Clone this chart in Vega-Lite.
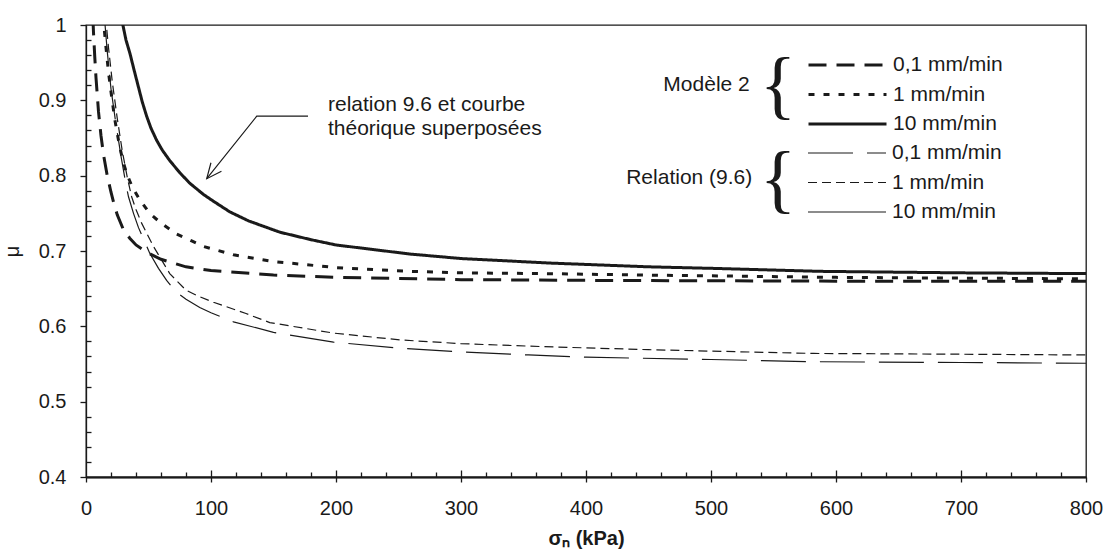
{
  "$schema": "https://vega.github.io/schema/vega-lite/v6.json",
  "width": 1000,
  "height": 452,
  "autosize": {"type": "none"},
  "padding": {"left": 86, "top": 25, "right": 21, "bottom": 77},
  "background": "white",
  "config": {
    "font": "Liberation Sans",
    "view": {"stroke": "#1a1a1a", "strokeWidth": 1.3},
    "axis": {
      "grid": false, "domainColor": "#1a1a1a", "domainWidth": 1.3, "tickColor": "#1a1a1a", "tickWidth": 1.3,
      "labelColor": "#1a1a1a", "titleColor": "#1a1a1a", "labelFont": "Liberation Sans", "titleFont": "Liberation Sans",
      "labelFontSize": 20, "titleFontSize": 20
    },
    "legend": {
      "labelFont": "Liberation Sans", "labelFontSize": 21, "labelColor": "#1a1a1a", "padding": 0,
      "rowPadding": 7.5, "clipHeight": 22, "symbolType": "stroke", "symbolSize": 6084, "labelOffset": 5,
      "symbolStrokeColor": "#1a1a1a"
    }
  },
  "datasets": {
    "curves": [
      {"groupe": "Modèle 2", "vitesse": "0,1 mm/min", "sigma": 5.5, "mu": 1.01},
      {"groupe": "Modèle 2", "vitesse": "0,1 mm/min", "sigma": 6, "mu": 0.99},
      {"groupe": "Modèle 2", "vitesse": "0,1 mm/min", "sigma": 7, "mu": 0.958},
      {"groupe": "Modèle 2", "vitesse": "0,1 mm/min", "sigma": 8, "mu": 0.93},
      {"groupe": "Modèle 2", "vitesse": "0,1 mm/min", "sigma": 10, "mu": 0.885},
      {"groupe": "Modèle 2", "vitesse": "0,1 mm/min", "sigma": 12, "mu": 0.853},
      {"groupe": "Modèle 2", "vitesse": "0,1 mm/min", "sigma": 14, "mu": 0.828},
      {"groupe": "Modèle 2", "vitesse": "0,1 mm/min", "sigma": 17, "mu": 0.8},
      {"groupe": "Modèle 2", "vitesse": "0,1 mm/min", "sigma": 20, "mu": 0.778},
      {"groupe": "Modèle 2", "vitesse": "0,1 mm/min", "sigma": 22, "mu": 0.765},
      {"groupe": "Modèle 2", "vitesse": "0,1 mm/min", "sigma": 25, "mu": 0.748},
      {"groupe": "Modèle 2", "vitesse": "0,1 mm/min", "sigma": 30, "mu": 0.728},
      {"groupe": "Modèle 2", "vitesse": "0,1 mm/min", "sigma": 35, "mu": 0.717},
      {"groupe": "Modèle 2", "vitesse": "0,1 mm/min", "sigma": 40, "mu": 0.708},
      {"groupe": "Modèle 2", "vitesse": "0,1 mm/min", "sigma": 50, "mu": 0.697},
      {"groupe": "Modèle 2", "vitesse": "0,1 mm/min", "sigma": 60, "mu": 0.689},
      {"groupe": "Modèle 2", "vitesse": "0,1 mm/min", "sigma": 80, "mu": 0.679},
      {"groupe": "Modèle 2", "vitesse": "0,1 mm/min", "sigma": 100, "mu": 0.674},
      {"groupe": "Modèle 2", "vitesse": "0,1 mm/min", "sigma": 150, "mu": 0.668},
      {"groupe": "Modèle 2", "vitesse": "0,1 mm/min", "sigma": 200, "mu": 0.665},
      {"groupe": "Modèle 2", "vitesse": "0,1 mm/min", "sigma": 300, "mu": 0.662},
      {"groupe": "Modèle 2", "vitesse": "0,1 mm/min", "sigma": 400, "mu": 0.661},
      {"groupe": "Modèle 2", "vitesse": "0,1 mm/min", "sigma": 600, "mu": 0.66},
      {"groupe": "Modèle 2", "vitesse": "0,1 mm/min", "sigma": 800, "mu": 0.66},

      {"groupe": "Modèle 2", "vitesse": "1 mm/min", "sigma": 13.5, "mu": 1.012},
      {"groupe": "Modèle 2", "vitesse": "1 mm/min", "sigma": 14, "mu": 1.005},
      {"groupe": "Modèle 2", "vitesse": "1 mm/min", "sigma": 16, "mu": 0.97},
      {"groupe": "Modèle 2", "vitesse": "1 mm/min", "sigma": 18, "mu": 0.937},
      {"groupe": "Modèle 2", "vitesse": "1 mm/min", "sigma": 20.5, "mu": 0.905},
      {"groupe": "Modèle 2", "vitesse": "1 mm/min", "sigma": 23, "mu": 0.875},
      {"groupe": "Modèle 2", "vitesse": "1 mm/min", "sigma": 26, "mu": 0.847},
      {"groupe": "Modèle 2", "vitesse": "1 mm/min", "sigma": 29, "mu": 0.823},
      {"groupe": "Modèle 2", "vitesse": "1 mm/min", "sigma": 32.5, "mu": 0.803},
      {"groupe": "Modèle 2", "vitesse": "1 mm/min", "sigma": 37, "mu": 0.785},
      {"groupe": "Modèle 2", "vitesse": "1 mm/min", "sigma": 43, "mu": 0.768},
      {"groupe": "Modèle 2", "vitesse": "1 mm/min", "sigma": 51, "mu": 0.75},
      {"groupe": "Modèle 2", "vitesse": "1 mm/min", "sigma": 60, "mu": 0.737},
      {"groupe": "Modèle 2", "vitesse": "1 mm/min", "sigma": 72, "mu": 0.723},
      {"groupe": "Modèle 2", "vitesse": "1 mm/min", "sigma": 85, "mu": 0.713},
      {"groupe": "Modèle 2", "vitesse": "1 mm/min", "sigma": 94, "mu": 0.706},
      {"groupe": "Modèle 2", "vitesse": "1 mm/min", "sigma": 118, "mu": 0.695},
      {"groupe": "Modèle 2", "vitesse": "1 mm/min", "sigma": 150, "mu": 0.686},
      {"groupe": "Modèle 2", "vitesse": "1 mm/min", "sigma": 200, "mu": 0.678},
      {"groupe": "Modèle 2", "vitesse": "1 mm/min", "sigma": 259, "mu": 0.673},
      {"groupe": "Modèle 2", "vitesse": "1 mm/min", "sigma": 300, "mu": 0.671},
      {"groupe": "Modèle 2", "vitesse": "1 mm/min", "sigma": 366, "mu": 0.67},
      {"groupe": "Modèle 2", "vitesse": "1 mm/min", "sigma": 450, "mu": 0.668},
      {"groupe": "Modèle 2", "vitesse": "1 mm/min", "sigma": 500, "mu": 0.667},
      {"groupe": "Modèle 2", "vitesse": "1 mm/min", "sigma": 600, "mu": 0.665},
      {"groupe": "Modèle 2", "vitesse": "1 mm/min", "sigma": 700, "mu": 0.664},
      {"groupe": "Modèle 2", "vitesse": "1 mm/min", "sigma": 800, "mu": 0.663},

      {"groupe": "Modèle 2", "vitesse": "10 mm/min", "sigma": 29, "mu": 1.01},
      {"groupe": "Modèle 2", "vitesse": "10 mm/min", "sigma": 29.5, "mu": 1.0},
      {"groupe": "Modèle 2", "vitesse": "10 mm/min", "sigma": 32, "mu": 0.98},
      {"groupe": "Modèle 2", "vitesse": "10 mm/min", "sigma": 35.2, "mu": 0.962},
      {"groupe": "Modèle 2", "vitesse": "10 mm/min", "sigma": 38.5, "mu": 0.94},
      {"groupe": "Modèle 2", "vitesse": "10 mm/min", "sigma": 41.9, "mu": 0.918},
      {"groupe": "Modèle 2", "vitesse": "10 mm/min", "sigma": 45, "mu": 0.898},
      {"groupe": "Modèle 2", "vitesse": "10 mm/min", "sigma": 48.5, "mu": 0.879},
      {"groupe": "Modèle 2", "vitesse": "10 mm/min", "sigma": 52, "mu": 0.863},
      {"groupe": "Modèle 2", "vitesse": "10 mm/min", "sigma": 56.5, "mu": 0.847},
      {"groupe": "Modèle 2", "vitesse": "10 mm/min", "sigma": 61, "mu": 0.834},
      {"groupe": "Modèle 2", "vitesse": "10 mm/min", "sigma": 67, "mu": 0.82},
      {"groupe": "Modèle 2", "vitesse": "10 mm/min", "sigma": 75, "mu": 0.804},
      {"groupe": "Modèle 2", "vitesse": "10 mm/min", "sigma": 83, "mu": 0.79},
      {"groupe": "Modèle 2", "vitesse": "10 mm/min", "sigma": 94, "mu": 0.775},
      {"groupe": "Modèle 2", "vitesse": "10 mm/min", "sigma": 102, "mu": 0.766},
      {"groupe": "Modèle 2", "vitesse": "10 mm/min", "sigma": 115, "mu": 0.752},
      {"groupe": "Modèle 2", "vitesse": "10 mm/min", "sigma": 130, "mu": 0.74},
      {"groupe": "Modèle 2", "vitesse": "10 mm/min", "sigma": 155, "mu": 0.725},
      {"groupe": "Modèle 2", "vitesse": "10 mm/min", "sigma": 180, "mu": 0.715},
      {"groupe": "Modèle 2", "vitesse": "10 mm/min", "sigma": 200, "mu": 0.708},
      {"groupe": "Modèle 2", "vitesse": "10 mm/min", "sigma": 259, "mu": 0.696},
      {"groupe": "Modèle 2", "vitesse": "10 mm/min", "sigma": 300, "mu": 0.69},
      {"groupe": "Modèle 2", "vitesse": "10 mm/min", "sigma": 371, "mu": 0.684},
      {"groupe": "Modèle 2", "vitesse": "10 mm/min", "sigma": 450, "mu": 0.679},
      {"groupe": "Modèle 2", "vitesse": "10 mm/min", "sigma": 500, "mu": 0.677},
      {"groupe": "Modèle 2", "vitesse": "10 mm/min", "sigma": 587, "mu": 0.673},
      {"groupe": "Modèle 2", "vitesse": "10 mm/min", "sigma": 700, "mu": 0.671},
      {"groupe": "Modèle 2", "vitesse": "10 mm/min", "sigma": 800, "mu": 0.67},

      {"groupe": "Relation (9.6)", "vitesse": "0,1 mm/min", "sigma": 14.5, "mu": 1.012},
      {"groupe": "Relation (9.6)", "vitesse": "0,1 mm/min", "sigma": 15, "mu": 1.005},
      {"groupe": "Relation (9.6)", "vitesse": "0,1 mm/min", "sigma": 17, "mu": 0.965},
      {"groupe": "Relation (9.6)", "vitesse": "0,1 mm/min", "sigma": 20, "mu": 0.915},
      {"groupe": "Relation (9.6)", "vitesse": "0,1 mm/min", "sigma": 24, "mu": 0.868},
      {"groupe": "Relation (9.6)", "vitesse": "0,1 mm/min", "sigma": 28, "mu": 0.826},
      {"groupe": "Relation (9.6)", "vitesse": "0,1 mm/min", "sigma": 32, "mu": 0.788},
      {"groupe": "Relation (9.6)", "vitesse": "0,1 mm/min", "sigma": 34, "mu": 0.772},
      {"groupe": "Relation (9.6)", "vitesse": "0,1 mm/min", "sigma": 38, "mu": 0.75},
      {"groupe": "Relation (9.6)", "vitesse": "0,1 mm/min", "sigma": 42, "mu": 0.731},
      {"groupe": "Relation (9.6)", "vitesse": "0,1 mm/min", "sigma": 51, "mu": 0.697},
      {"groupe": "Relation (9.6)", "vitesse": "0,1 mm/min", "sigma": 58, "mu": 0.677},
      {"groupe": "Relation (9.6)", "vitesse": "0,1 mm/min", "sigma": 64.5, "mu": 0.661},
      {"groupe": "Relation (9.6)", "vitesse": "0,1 mm/min", "sigma": 72, "mu": 0.646},
      {"groupe": "Relation (9.6)", "vitesse": "0,1 mm/min", "sigma": 80, "mu": 0.636},
      {"groupe": "Relation (9.6)", "vitesse": "0,1 mm/min", "sigma": 91, "mu": 0.625},
      {"groupe": "Relation (9.6)", "vitesse": "0,1 mm/min", "sigma": 100, "mu": 0.618},
      {"groupe": "Relation (9.6)", "vitesse": "0,1 mm/min", "sigma": 118, "mu": 0.606},
      {"groupe": "Relation (9.6)", "vitesse": "0,1 mm/min", "sigma": 150, "mu": 0.592},
      {"groupe": "Relation (9.6)", "vitesse": "0,1 mm/min", "sigma": 198, "mu": 0.579},
      {"groupe": "Relation (9.6)", "vitesse": "0,1 mm/min", "sigma": 251, "mu": 0.571},
      {"groupe": "Relation (9.6)", "vitesse": "0,1 mm/min", "sigma": 300, "mu": 0.566},
      {"groupe": "Relation (9.6)", "vitesse": "0,1 mm/min", "sigma": 354, "mu": 0.562},
      {"groupe": "Relation (9.6)", "vitesse": "0,1 mm/min", "sigma": 400, "mu": 0.559},
      {"groupe": "Relation (9.6)", "vitesse": "0,1 mm/min", "sigma": 500, "mu": 0.556},
      {"groupe": "Relation (9.6)", "vitesse": "0,1 mm/min", "sigma": 582, "mu": 0.553},
      {"groupe": "Relation (9.6)", "vitesse": "0,1 mm/min", "sigma": 700, "mu": 0.552},
      {"groupe": "Relation (9.6)", "vitesse": "0,1 mm/min", "sigma": 800, "mu": 0.551},

      {"groupe": "Relation (9.6)", "vitesse": "1 mm/min", "sigma": 15.5, "mu": 1.012},
      {"groupe": "Relation (9.6)", "vitesse": "1 mm/min", "sigma": 16, "mu": 1.005},
      {"groupe": "Relation (9.6)", "vitesse": "1 mm/min", "sigma": 18, "mu": 0.97},
      {"groupe": "Relation (9.6)", "vitesse": "1 mm/min", "sigma": 21, "mu": 0.925},
      {"groupe": "Relation (9.6)", "vitesse": "1 mm/min", "sigma": 25, "mu": 0.876},
      {"groupe": "Relation (9.6)", "vitesse": "1 mm/min", "sigma": 29, "mu": 0.833},
      {"groupe": "Relation (9.6)", "vitesse": "1 mm/min", "sigma": 33, "mu": 0.798},
      {"groupe": "Relation (9.6)", "vitesse": "1 mm/min", "sigma": 36.5, "mu": 0.772},
      {"groupe": "Relation (9.6)", "vitesse": "1 mm/min", "sigma": 40, "mu": 0.755},
      {"groupe": "Relation (9.6)", "vitesse": "1 mm/min", "sigma": 44.5, "mu": 0.737},
      {"groupe": "Relation (9.6)", "vitesse": "1 mm/min", "sigma": 54, "mu": 0.706},
      {"groupe": "Relation (9.6)", "vitesse": "1 mm/min", "sigma": 67, "mu": 0.67},
      {"groupe": "Relation (9.6)", "vitesse": "1 mm/min", "sigma": 80, "mu": 0.648},
      {"groupe": "Relation (9.6)", "vitesse": "1 mm/min", "sigma": 90, "mu": 0.64},
      {"groupe": "Relation (9.6)", "vitesse": "1 mm/min", "sigma": 102, "mu": 0.632},
      {"groupe": "Relation (9.6)", "vitesse": "1 mm/min", "sigma": 128, "mu": 0.617},
      {"groupe": "Relation (9.6)", "vitesse": "1 mm/min", "sigma": 147, "mu": 0.605},
      {"groupe": "Relation (9.6)", "vitesse": "1 mm/min", "sigma": 198, "mu": 0.591},
      {"groupe": "Relation (9.6)", "vitesse": "1 mm/min", "sigma": 251, "mu": 0.582},
      {"groupe": "Relation (9.6)", "vitesse": "1 mm/min", "sigma": 300, "mu": 0.577},
      {"groupe": "Relation (9.6)", "vitesse": "1 mm/min", "sigma": 366, "mu": 0.573},
      {"groupe": "Relation (9.6)", "vitesse": "1 mm/min", "sigma": 450, "mu": 0.569},
      {"groupe": "Relation (9.6)", "vitesse": "1 mm/min", "sigma": 582, "mu": 0.564},
      {"groupe": "Relation (9.6)", "vitesse": "1 mm/min", "sigma": 700, "mu": 0.563},
      {"groupe": "Relation (9.6)", "vitesse": "1 mm/min", "sigma": 800, "mu": 0.562},

      {"groupe": "Relation (9.6)", "vitesse": "10 mm/min", "sigma": 29, "mu": 1.01},
      {"groupe": "Relation (9.6)", "vitesse": "10 mm/min", "sigma": 29.5, "mu": 1.0},
      {"groupe": "Relation (9.6)", "vitesse": "10 mm/min", "sigma": 32, "mu": 0.98},
      {"groupe": "Relation (9.6)", "vitesse": "10 mm/min", "sigma": 35.2, "mu": 0.962},
      {"groupe": "Relation (9.6)", "vitesse": "10 mm/min", "sigma": 38.5, "mu": 0.94},
      {"groupe": "Relation (9.6)", "vitesse": "10 mm/min", "sigma": 41.9, "mu": 0.918},
      {"groupe": "Relation (9.6)", "vitesse": "10 mm/min", "sigma": 45, "mu": 0.898},
      {"groupe": "Relation (9.6)", "vitesse": "10 mm/min", "sigma": 48.5, "mu": 0.879},
      {"groupe": "Relation (9.6)", "vitesse": "10 mm/min", "sigma": 52, "mu": 0.863},
      {"groupe": "Relation (9.6)", "vitesse": "10 mm/min", "sigma": 56.5, "mu": 0.847},
      {"groupe": "Relation (9.6)", "vitesse": "10 mm/min", "sigma": 61, "mu": 0.834},
      {"groupe": "Relation (9.6)", "vitesse": "10 mm/min", "sigma": 67, "mu": 0.82},
      {"groupe": "Relation (9.6)", "vitesse": "10 mm/min", "sigma": 75, "mu": 0.804},
      {"groupe": "Relation (9.6)", "vitesse": "10 mm/min", "sigma": 83, "mu": 0.79},
      {"groupe": "Relation (9.6)", "vitesse": "10 mm/min", "sigma": 94, "mu": 0.775},
      {"groupe": "Relation (9.6)", "vitesse": "10 mm/min", "sigma": 102, "mu": 0.766},
      {"groupe": "Relation (9.6)", "vitesse": "10 mm/min", "sigma": 115, "mu": 0.752},
      {"groupe": "Relation (9.6)", "vitesse": "10 mm/min", "sigma": 130, "mu": 0.74},
      {"groupe": "Relation (9.6)", "vitesse": "10 mm/min", "sigma": 155, "mu": 0.725},
      {"groupe": "Relation (9.6)", "vitesse": "10 mm/min", "sigma": 180, "mu": 0.715},
      {"groupe": "Relation (9.6)", "vitesse": "10 mm/min", "sigma": 200, "mu": 0.708},
      {"groupe": "Relation (9.6)", "vitesse": "10 mm/min", "sigma": 259, "mu": 0.696},
      {"groupe": "Relation (9.6)", "vitesse": "10 mm/min", "sigma": 300, "mu": 0.69},
      {"groupe": "Relation (9.6)", "vitesse": "10 mm/min", "sigma": 371, "mu": 0.684},
      {"groupe": "Relation (9.6)", "vitesse": "10 mm/min", "sigma": 450, "mu": 0.679},
      {"groupe": "Relation (9.6)", "vitesse": "10 mm/min", "sigma": 500, "mu": 0.677},
      {"groupe": "Relation (9.6)", "vitesse": "10 mm/min", "sigma": 587, "mu": 0.673},
      {"groupe": "Relation (9.6)", "vitesse": "10 mm/min", "sigma": 700, "mu": 0.671},
      {"groupe": "Relation (9.6)", "vitesse": "10 mm/min", "sigma": 800, "mu": 0.67}
    ],
    "notes": [
      {"kind": "note", "text": "relation 9.6 et courbe\nthéorique superposées", "sigma": 193.6, "mu": 0.894},
      {"kind": "group", "text": "Modèle 2", "sigma": 531, "mu": 0.92},
      {"kind": "group", "text": "Relation (9.6)", "sigma": 533, "mu": 0.797},
      {"kind": "brace", "text": "{", "sigma": 553.6, "mu": 0.887},
      {"kind": "brace", "text": "{", "sigma": 553.6, "mu": 0.762},
      {"kind": "arrow", "text": "", "sigma": 177.6, "mu": 0.879},
      {"kind": "arrow", "text": "", "sigma": 136.6, "mu": 0.879},
      {"kind": "arrow", "text": "", "sigma": 96.6, "mu": 0.796},
      {"kind": "tip", "text": "", "sigma": 96.6, "mu": 0.796}
    ]
  },
  "layer": [
    {
      "data": {"name": "curves"},
      "transform": [{"filter": "datum.groupe === 'Relation (9.6)'"}],
      "mark": {"type": "line", "clip": true, "strokeWidth": 1.2, "color": "#1a1a1a"},
      "encoding": {
        "x": {
          "field": "sigma", "type": "quantitative", "scale": {"domain": [0, 800], "nice": false}, "title": " ",
          "axis": {
            "orient": "top", "offset": -452, "labels": true, "labelOpacity": 0, "domain": true, "tickSize": 5, "titleOpacity": 0,
            "values": [20,40,60,80,120,140,160,180,220,240,260,280,320,340,360,380,420,440,460,480,520,540,560,580,620,640,660,680,720,740,760,780]
          }
        },
        "y": {
          "field": "mu", "type": "quantitative", "scale": {"domain": [0.4, 1], "nice": false, "zero": false},
          "axis": {
            "orient": "right", "offset": -1000, "labels": false, "domain": false, "title": null, "tickSize": 5,
            "values": [0.42,0.44,0.46,0.48,0.52,0.54,0.56,0.58,0.62,0.64,0.66,0.68,0.72,0.74,0.76,0.78,0.82,0.84,0.86,0.88,0.92,0.94,0.96,0.98]
          }
        },
        "strokeDash": {
          "field": "vitesse", "type": "nominal",
          "scale": {"domain": ["0,1 mm/min", "1 mm/min", "10 mm/min"], "range": [[45, 14], [9, 5], [1, 0]]},
          "legend": {"title": null, "orient": "none", "legendX": 721, "legendY": 117, "symbolStrokeWidth": 1.2}
        }
      }
    },
    {
      "data": {"name": "curves"},
      "transform": [{"filter": "datum.groupe === 'Modèle 2'"}],
      "mark": {"type": "line", "clip": true, "strokeWidth": 3, "color": "#1a1a1a"},
      "encoding": {
        "x": {
          "field": "sigma", "type": "quantitative", "title": "σₙ (kPa)",
          "axis": {
            "orient": "bottom", "values": [0,100,200,300,400,500,600,700,800], "format": "d", "tickSize": 5,
            "labelPadding": 16, "labelFlush": false, "labelOverlap": false,
            "titleFontWeight": "bold", "titlePadding": 10
          }
        },
        "y": {
          "field": "mu", "type": "quantitative", "title": "μ",
          "axis": {
            "orient": "left", "values": [0.4,0.5,0.6,0.7,0.8,0.9,1], "format": "~g", "tickSize": 6,
            "labelPadding": 14, "titleFontWeight": "normal", "titlePadding": 16
          }
        },
        "strokeDash": {
          "field": "vitesse", "type": "nominal",
          "scale": {"domain": ["0,1 mm/min", "1 mm/min", "10 mm/min"], "range": [[18, 10], [6, 9], [1, 0]]},
          "legend": {"title": null, "orient": "none", "legendX": 721, "legendY": 29, "symbolStrokeWidth": 3}
        }
      }
    },
    {
      "data": {"name": "notes"},
      "transform": [{"filter": "datum.kind === 'arrow'"}],
      "mark": {"type": "line", "strokeWidth": 1.2, "color": "#1a1a1a"},
      "encoding": {
        "x": {
          "field": "sigma", "type": "quantitative", "title": " ",
          "axis": {"orient": "top", "offset": -452, "labels": true, "labelOpacity": 0, "domain": true, "tickSize": 7, "titleOpacity": 0, "values": [100,200,300,400,500,600,700]}
        },
        "y": {"field": "mu", "type": "quantitative", "axis": null}
      }
    },
    {
      "data": {"name": "notes"},
      "transform": [{"filter": "datum.kind === 'tip'"}],
      "mark": {"type": "point", "shape": "M -1 -0.45 L 0 0 L -1 0.45", "angle": 129, "size": 900, "filled": false, "stroke": "#1a1a1a", "strokeWidth": 1.2, "opacity": 1},
      "encoding": {
        "x": {"field": "sigma", "type": "quantitative", "axis": null},
        "y": {"field": "mu", "type": "quantitative", "axis": null}
      }
    },
    {
      "data": {"name": "notes"},
      "transform": [{"filter": "datum.kind === 'note'"}],
      "mark": {"type": "text", "align": "left", "baseline": "middle", "lineBreak": "\n", "lineHeight": 24, "fontSize": 21, "font": "Liberation Sans", "color": "#1a1a1a"},
      "encoding": {
        "x": {"field": "sigma", "type": "quantitative", "axis": null},
        "y": {"field": "mu", "type": "quantitative", "axis": null},
        "text": {"field": "text"}
      }
    },
    {
      "data": {"name": "notes"},
      "transform": [{"filter": "datum.kind === 'group'"}],
      "mark": {"type": "text", "align": "right", "baseline": "middle", "fontSize": 21, "font": "Liberation Sans", "color": "#1a1a1a"},
      "encoding": {
        "x": {"field": "sigma", "type": "quantitative", "axis": null},
        "y": {"field": "mu", "type": "quantitative", "axis": null},
        "text": {"field": "text"}
      }
    },
    {
      "data": {"name": "notes"},
      "transform": [{"filter": "datum.kind === 'brace'"}],
      "mark": {"type": "text", "align": "center", "baseline": "alphabetic", "fontSize": 76, "font": "Liberation Serif", "color": "#1a1a1a"},
      "encoding": {
        "x": {"field": "sigma", "type": "quantitative", "axis": null},
        "y": {"field": "mu", "type": "quantitative", "axis": null},
        "text": {"field": "text"}
      }
    }
  ],
  "resolve": {"scale": {"strokeDash": "independent"}, "axis": {"x": "independent", "y": "independent"}}
}
